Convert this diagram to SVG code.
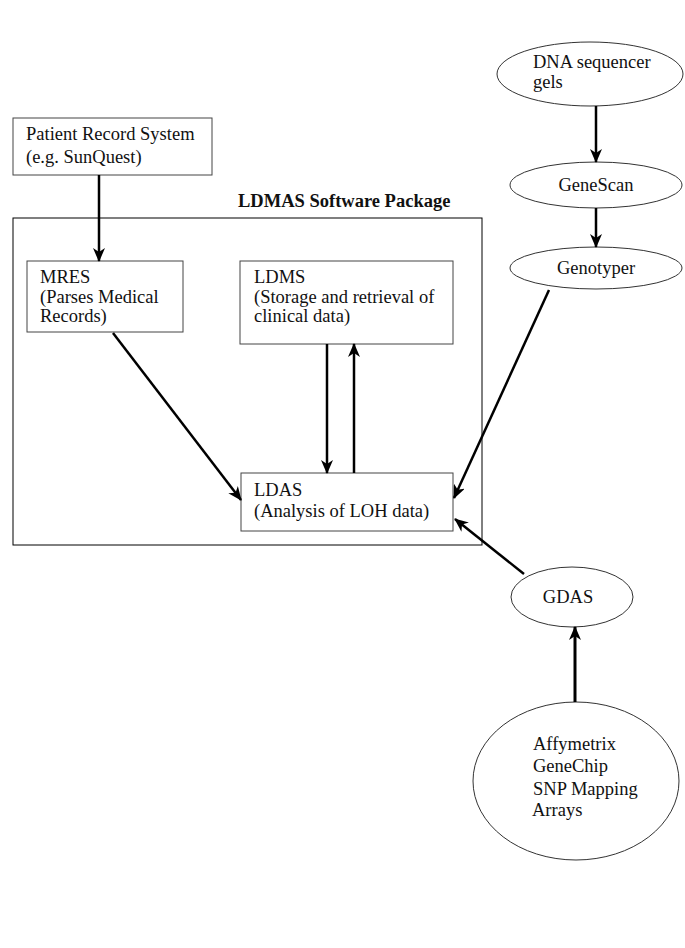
<svg xmlns="http://www.w3.org/2000/svg" width="685" height="948" viewBox="0 0 685 948" font-family="'Liberation Serif', 'Times New Roman', serif">
<defs>
<style>
text{font-family:'Liberation Serif','Times New Roman',serif;font-size:18.5px;fill:#111}
.title{font-weight:bold}
.box{fill:#fff;stroke:#444;stroke-width:1}
.ell{fill:#fff;stroke:#333;stroke-width:1}
.edge{stroke:#000;stroke-width:2.5;fill:none;marker-end:url(#ah)}
.mid{text-anchor:middle}
</style>
<marker id="ah" viewBox="0 0 14 12" refX="13" refY="6" markerWidth="14" markerHeight="12" markerUnits="userSpaceOnUse" orient="auto">
<path d="M0,0 L14,6 L0,12 L4,6 z" fill="#000"/>
</marker>
</defs>
<rect width="685" height="948" fill="#fff"/>
<g id="ldmas-package">
<rect x="13" y="218" width="469" height="327" fill="none" stroke="#000" stroke-width="1"/>
<text class="title" x="238" y="207">LDMAS Software Package</text>
</g>
<g id="patient-record">
<rect class="box" x="13" y="118" width="199" height="57"/>
<text x="26" y="140">Patient Record System</text>
<text x="26" y="163">(e.g. SunQuest)</text>
</g>
<g id="mres">
<rect class="box" x="27" y="261" width="156" height="71"/>
<text x="40" y="283">MRES</text>
<text x="40" y="303">(Parses Medical</text>
<text x="40" y="322">Records)</text>
</g>
<g id="ldms">
<rect class="box" x="240" y="261" width="213" height="83"/>
<text x="254" y="283">LDMS</text>
<text x="254" y="303">(Storage and retrieval of</text>
<text x="254" y="322">clinical data)</text>
</g>
<g id="ldas">
<rect class="box" x="241" y="473" width="212" height="58"/>
<text x="254" y="496">LDAS</text>
<text x="254" y="517">(Analysis of LOH data)</text>
</g>
<g id="dna">
<ellipse class="ell" cx="590" cy="74" rx="93" ry="32"/>
<text x="533" y="68">DNA sequencer</text>
<text x="533" y="88">gels</text>
</g>
<g id="genescan">
<ellipse class="ell" cx="596" cy="185" rx="86" ry="23"/>
<text class="mid" x="596" y="191">GeneScan</text>
</g>
<g id="genotyper">
<ellipse class="ell" cx="596" cy="268" rx="86" ry="21"/>
<text class="mid" x="596" y="274">Genotyper</text>
</g>
<g id="gdas">
<ellipse class="ell" cx="572" cy="597" rx="61" ry="30"/>
<text class="mid" x="568" y="603">GDAS</text>
</g>
<g id="affymetrix">
<ellipse class="ell" cx="576" cy="781" rx="103" ry="79"/>
<text x="533" y="750">Affymetrix</text>
<text x="533" y="772">GeneChip</text>
<text x="533" y="795">SNP Mapping</text>
<text x="532" y="816">Arrays</text>
</g>
<g id="connectors">
<line class="edge" x1="99" y1="175" x2="99" y2="261"/>
<line class="edge" x1="113" y1="333" x2="241" y2="500"/>
<line class="edge" x1="327" y1="344" x2="327" y2="473"/>
<line class="edge" x1="354" y1="473" x2="354" y2="344"/>
<line class="edge" x1="549" y1="290" x2="454" y2="498"/>
<line class="edge" x1="524" y1="574" x2="455" y2="519"/>
<line class="edge" x1="596" y1="106" x2="596" y2="162"/>
<line class="edge" x1="596" y1="208" x2="596" y2="247"/>
<line class="edge" x1="575" y1="702" x2="575" y2="627" style="stroke-width:3"/>
</g>
</svg>
